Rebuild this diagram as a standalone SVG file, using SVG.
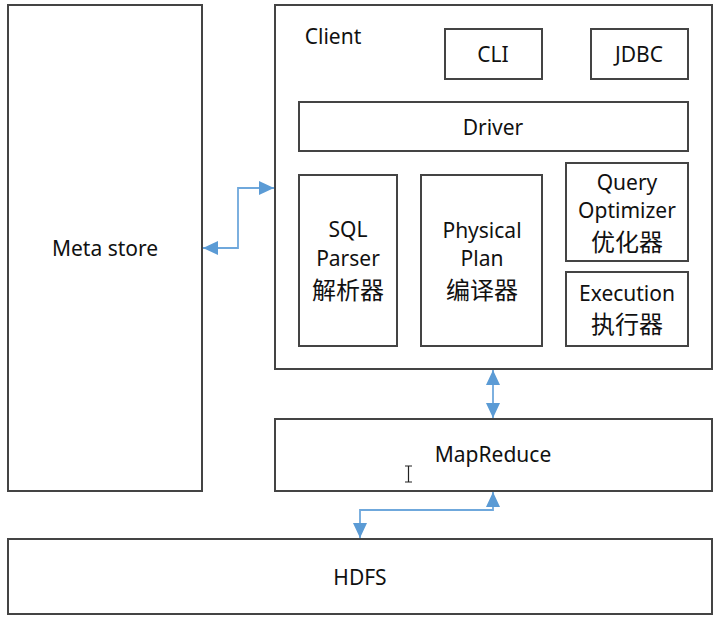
<svg xmlns="http://www.w3.org/2000/svg" width="720" height="619" viewBox="0 0 720 619">
<style>
.box{fill:#fff;stroke:#444;stroke-width:2}
.t{font-family:"Noto Sans","Noto Sans CJK SC",sans-serif;font-size:21px;fill:#111;text-anchor:middle;dominant-baseline:central}
.z{font-family:"Noto Sans CJK SC",sans-serif;font-size:24px}
.c{fill:none;stroke:#6fa8dc;stroke-width:1.8}
</style>
<defs>
<marker id="ah" markerWidth="16" markerHeight="14" refX="15" refY="7" orient="auto-start-reverse" markerUnits="userSpaceOnUse">
<path d="M0,0 L15,7 L0,14 Z" fill="#5b9bd5"/>
</marker>
</defs>
<rect width="720" height="619" fill="#fff"/>
<g id="metastore"><rect class="box" x="8" y="5" width="194" height="486"/><text class="t" x="105" y="248">Meta store</text></g>
<g id="client"><rect class="box" x="275" y="5" width="437" height="364"/><text class="t" x="333" y="36">Client</text></g>
<g id="cli"><rect class="box" x="445" y="29" width="97" height="50"/><text class="t" x="493" y="54">CLI</text></g>
<g id="jdbc"><rect class="box" x="591" y="29" width="97" height="50"/><text class="t" x="639" y="54">JDBC</text></g>
<g id="driver"><rect class="box" x="299" y="102" width="389" height="49"/><text class="t" x="493" y="127">Driver</text></g>
<g id="sqlparser"><rect class="box" x="299" y="175" width="98" height="171"/><text class="t" x="348" y="229">SQL</text><text class="t" x="348" y="258">Parser</text><text class="t z" x="348" y="288">解析器</text></g>
<g id="physicalplan"><rect class="box" x="421" y="175" width="121" height="171"/><text class="t" x="482" y="230">Physical</text><text class="t" x="482" y="258">Plan</text><text class="t z" x="482" y="288">编译器</text></g>
<g id="optimizer"><rect class="box" x="566" y="163" width="122" height="98"/><text class="t" x="627" y="182">Query</text><text class="t" x="627" y="210">Optimizer</text><text class="t z" x="627" y="240">优化器</text></g>
<g id="execution"><rect class="box" x="566" y="272" width="122" height="74"/><text class="t" x="627" y="293">Execution</text><text class="t z" x="627" y="322">执行器</text></g>
<g id="mapreduce"><rect class="box" x="275" y="419" width="437" height="72"/><text class="t" x="493" y="454">MapReduce</text></g>
<g id="hdfs"><rect class="box" x="8" y="539" width="704" height="75"/><text class="t" x="360" y="577">HDFS</text></g>
<g id="connectors">
<path class="c" d="M203,248 H238 V188 H274" marker-start="url(#ah)" marker-end="url(#ah)"/>
<path class="c" d="M493,370 V418" marker-start="url(#ah)" marker-end="url(#ah)"/>
<path class="c" d="M493,492 V510 H360 V538" marker-start="url(#ah)" marker-end="url(#ah)"/>
</g>
<path d="M405,466 H412 M408.5,466 V482 M405,482 H412" stroke="#222" stroke-width="1.2" fill="none"/>
</svg>
